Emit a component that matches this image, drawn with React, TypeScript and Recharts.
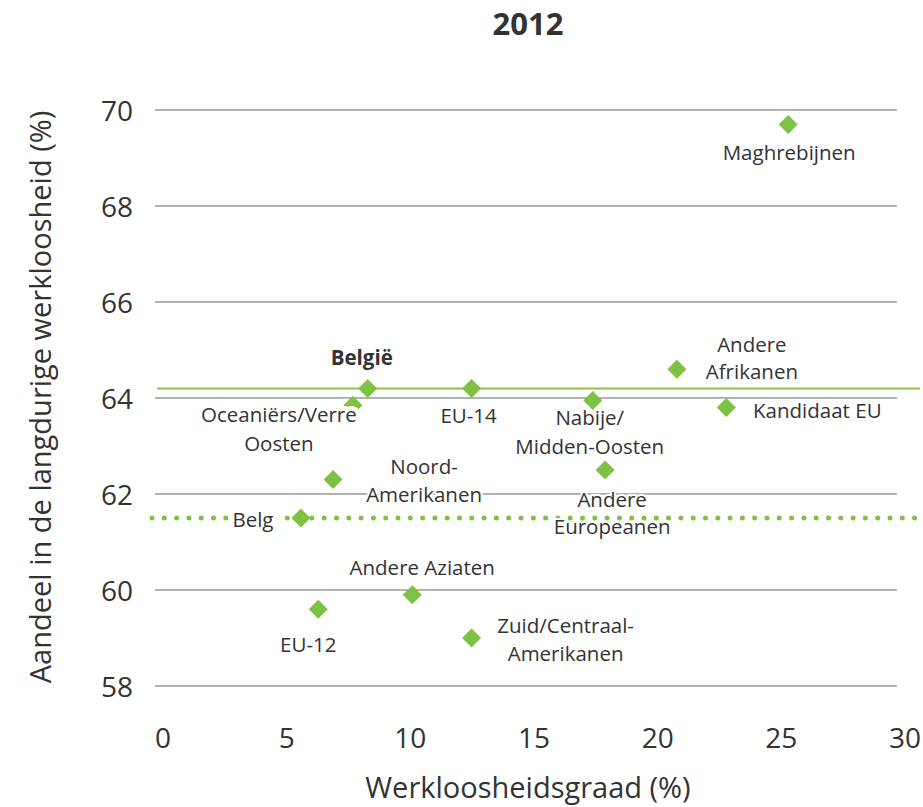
import { CartesianGrid, Label, ReferenceLine, Scatter, ScatterChart, XAxis, YAxis } from 'recharts';

const groups = [
  'Maghrebijnen',
  'Andere Afrikanen',
  'Kandidaat EU',
  'Nabije/Midden-Oosten',
  'Andere Europeanen',
  'België',
  'EU-14',
  'Oceaniërs/Verre Oosten',
  'Noord-Amerikanen',
  'Belg',
  'Andere Aziaten',
  'EU-12',
  'Zuid/Centraal-Amerikanen',
];
const unemploymentRate = [25.6, 21.1, 23.1, 17.7, 18.2, 8.6, 12.8, 8.0, 7.2, 5.9, 10.4, 6.6, 12.8];
const longTermShare = [69.7, 64.6, 63.8, 63.95, 62.5, 64.2, 64.2, 63.85, 62.3, 61.5, 59.9, 59.6, 59.0];
const xTicks = [0, 5, 10, 15, 20, 25, 30];
const yTicks = [58, 60, 62, 64, 66, 68, 70];

const title = '2012';
const xTitle = 'Werkloosheidsgraad (%)';
const yTitle = 'Aandeel in de langdurige werkloosheid (%)';

// where each label goes relative to its diamond (px)
const labelLayout: Record<string, { lines: string[]; dx: number; dy: number[]; bold?: boolean; box?: boolean }> = {
  Maghrebijnen: { lines: ['Maghrebijnen'], dx: 1, dy: [28] },
  'Andere Afrikanen': { lines: ['Andere', 'Afrikanen'], dx: 75, dy: [-25, 2] },
  'Kandidaat EU': { lines: ['Kandidaat EU'], dx: 91, dy: [2] },
  'Nabije/Midden-Oosten': { lines: ['Nabije/', 'Midden-Oosten'], dx: -3, dy: [17, 46] },
  'Andere Europeanen': { lines: ['Andere', 'Europeanen'], dx: 7, dy: [29, 56] },
  België: { lines: ['België'], dx: -6, dy: [-31], bold: true },
  'EU-14': { lines: ['EU-14'], dx: -3, dy: [27] },
  'Oceaniërs/Verre Oosten': { lines: ['Oceaniërs/Verre', 'Oosten'], dx: -74, dy: [9, 38], box: true },
  'Noord-Amerikanen': { lines: ['Noord-', 'Amerikanen'], dx: 91, dy: [-14, 14] },
  Belg: { lines: ['Belg'], dx: -48, dy: [1], box: true },
  'Andere Aziaten': { lines: ['Andere Aziaten'], dx: 10, dy: [-28] },
  'EU-12': { lines: ['EU-12'], dx: -10, dy: [35] },
  'Zuid/Centraal-Amerikanen': { lines: ['Zuid/Centraal-', 'Amerikanen'], dx: 94, dy: [-13, 15] },
};

const data = groups.map((name, i) => ({ name, x: unemploymentRate[i], y: longTermShare[i] }));
const belgieValue = longTermShare[groups.indexOf('België')];
const belgValue = longTermShare[groups.indexOf('Belg')];

const GREEN = '#7dc242';
const TEXT = '#333333';
const FONT = '"Open Sans", sans-serif';

const Diamond = (props: any) => {
  const { cx, cy } = props;
  const r = 9.5;
  return <polygon points={`${cx},${cy - r} ${cx + r},${cy} ${cx},${cy + r} ${cx - r},${cy}`} fill={GREEN} />;
};

const PointLabel = (props: any) => {
  const { cx, cy, payload } = props;
  const cfg = labelLayout[payload.name];
  if (!cfg) return null;
  return (
    <g>
      {cfg.lines.map((line, i) => (
        <text
          key={i}
          x={cx + cfg.dx}
          y={cy + cfg.dy[i]}
          textAnchor="middle"
          dominantBaseline="central"
          fontFamily={FONT}
          fontSize={20.5}
          fontWeight={cfg.bold ? 700 : 400}
          fill={TEXT}
          stroke="#ffffff"
          strokeWidth={cfg.box ? 10 : 4}
          strokeLinejoin="round"
          paintOrder="stroke"
        >
          {line}
        </text>
      ))}
    </g>
  );
};

const XTick = (props: any) => {
  const { x, y, payload } = props;
  return (
    <text x={x + 8} y={y + 51} textAnchor="middle" dominantBaseline="central" fontFamily={FONT} fontSize={28} fill={TEXT}>
      {payload.value}
    </text>
  );
};

const YTick = (props: any) => {
  const { x, y, payload } = props;
  return (
    <text x={x - 22} y={y} textAnchor="end" dominantBaseline="central" fontFamily={FONT} fontSize={28} fill={TEXT}>
      {payload.value}
    </text>
  );
};

export default function App() {
  return (
    <div style={{ position: 'absolute', left: 0, top: 0, width: 923, height: 807, background: '#fff' }}>
      <div
        style={{
          position: 'absolute',
          left: 0,
          top: 3,
          width: 1056,
          textAlign: 'center',
          fontFamily: FONT,
          fontWeight: 700,
          fontSize: 31,
          color: TEXT,
          lineHeight: '40px',
        }}
      >
        {title}
      </div>
      <ScatterChart width={923} height={807} margin={{ top: 110, right: 26, left: 95, bottom: 71 }}>
        <CartesianGrid horizontal vertical={false} stroke="#9a9a9a" strokeWidth={1.5} />
        <XAxis
          type="number"
          dataKey="x"
          domain={[0, 30]}
          ticks={xTicks}
          height={50}
          axisLine={false}
          tickLine={false}
          tickSize={0}
          tickMargin={0}
          tick={<XTick />}
        >
          <Label
            content={(p: any) => (
              <text
                x={p.viewBox.x + p.viewBox.width / 2 + 2}
                y={p.viewBox.y + 100}
                textAnchor="middle"
                dominantBaseline="central"
                fontFamily={FONT}
                fontSize={29}
                fill={TEXT}
              >
                {xTitle}
              </text>
            )}
          />
        </XAxis>
        <YAxis
          type="number"
          dataKey="y"
          domain={[58, 70]}
          ticks={yTicks}
          width={60}
          axisLine={false}
          tickLine={false}
          tickSize={0}
          tickMargin={0}
          tick={<YTick />}
        >
          <Label
            content={(p: any) => {
              const cx = p.viewBox.x - 56;
              const cy = p.viewBox.y + p.viewBox.height / 2 - 1;
              return (
                <text
                  x={cx}
                  y={cy}
                  transform={`rotate(-90 ${cx} ${cy})`}
                  textAnchor="middle"
                  dominantBaseline="central"
                  fontFamily={FONT}
                  fontSize={29}
                  fill={TEXT}
                >
                  {yTitle}
                </text>
              );
            }}
          />
        </YAxis>
        <ReferenceLine
          y={belgieValue}
          stroke="#8cc63f"
          strokeWidth={2}
          shape={(p: any) => <line x1={p.x1 + 2} x2={p.x2 + 23} y1={p.y1} y2={p.y2} stroke="#8cc63f" strokeWidth={2} />}
        />
        <ReferenceLine
          y={belgValue}
          stroke={GREEN}
          shape={(p: any) => (
            <line
              x1={p.x1 - 3}
              x2={p.x2 + 26}
              y1={p.y1}
              y2={p.y2}
              stroke={GREEN}
              strokeWidth={5}
              strokeLinecap="round"
              strokeDasharray="0 12.3"
            />
          )}
        />
        <Scatter data={data} shape={<Diamond />} isAnimationActive={false} />
        <Scatter data={data} shape={<PointLabel />} isAnimationActive={false} />
      </ScatterChart>
    </div>
  );
}
